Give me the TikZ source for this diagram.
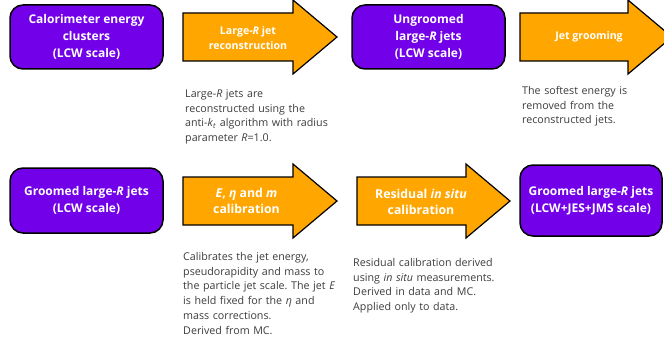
\documentclass[tikz,border=0pt]{standalone}
\usepackage{fontspec}
\setmainfont{Open Sans}
\usetikzlibrary{arrows.meta}
\definecolor{jetpurple}{RGB}{114,0,232}
\definecolor{steporange}{RGB}{255,166,0}
\definecolor{notegray}{RGB}{60,60,60}
\frenchspacing

\begin{document}
\begin{tikzpicture}[x=1pt,y=-1pt,
    box/.style={draw=black,line width=1.5pt,fill=jetpurple,rounded corners=13pt,
      text=white,align=center,inner sep=0pt,
      font=\fontsize{12}{16.7}\selectfont\bfseries},
    stepshape/.style={draw=black,line width=1.2pt,fill=steporange,line join=miter},
    steplabel/.style={text=white,align=center,inner sep=0pt,
      font=\fontsize{10.6}{15}\selectfont\bfseries},
    biglabel/.style={steplabel,font=\fontsize{12.3}{16}\selectfont\bfseries},
    note/.style={text=notegray,align=left,anchor=base west,inner sep=0pt,text width=175pt,
      font=\fontsize{10.7}{14.7}\selectfont}]
  \useasboundingbox (0,0) rectangle (664,345);
  \clip (0,0) rectangle (664,345);

  \foreach \x/\y/\len in {183/37/154, 520/37/152, 183/201/154, 357/201/153}
    \draw[stepshape] (\x,\y-24) -- ++(\len-44,0) -- ++(0,-13) -- ++(44,37)
      -- ++(-44,37) -- ++(0,-13) -- ++(-\len+44,0) -- cycle;

  \node[box,minimum width=153pt,minimum height=64pt] (clusters) at (86.5,37)
    {Calorimeter energy\\clusters\\(LCW scale)};
  \node[box,minimum width=153pt,minimum height=64pt] (ungroomed) at (428.5,37)
    {Ungroomed\\large-\textit{R} jets\\(LCW scale)};
  \node[box,minimum width=153pt,minimum height=65pt] (groomed) at (86.5,200.5)
    {Groomed large-\textit{R} jets\\(LCW scale)};
  \node[box,minimum width=142pt,minimum height=71pt] (calibrated) at (591,200.5)
    {Groomed large-\textit{R} jets\\(LCW+JES+JMS scale)};

  \node[steplabel] (reco) at (248,38.5) {Large-\textit{R} jet\\reconstruction};
  \node[steplabel] (grooming) at (589,37) {Jet grooming};
  \node[biglabel] (emcal) at (246.5,201) {\textit{E}, \textit{η} and \textit{m}\\calibration};
  \node[biglabel] (insitu) at (421,202) {Residual \textit{in situ}\\calibration};

  \node[note] (recoNote) at (185,97.5)
    {Large-\textit{R} jets are\\reconstructed using the\\anti-\textit{k}\textsubscript{\textit{t}} algorithm with radius\\parameter \textit{R}=1.0.};
  \node[note] (groomNote) at (522,94.5)
    {The softest energy is\\removed from the\\reconstructed jets.};
  \node[note] (emcalNote) at (183,260.5)
    {Calibrates the jet energy,\\pseudorapidity and mass to\\the particle jet scale. The jet \textit{E}\\is held fixed for the \textit{η} and\\mass corrections.\\Derived from MC.};
  \node[note] (insituNote) at (353,266.5)
    {Residual calibration derived\\using \textit{in situ} measurements.\\Derived in data and MC.\\Applied only to data.};
\end{tikzpicture}
\end{document}
